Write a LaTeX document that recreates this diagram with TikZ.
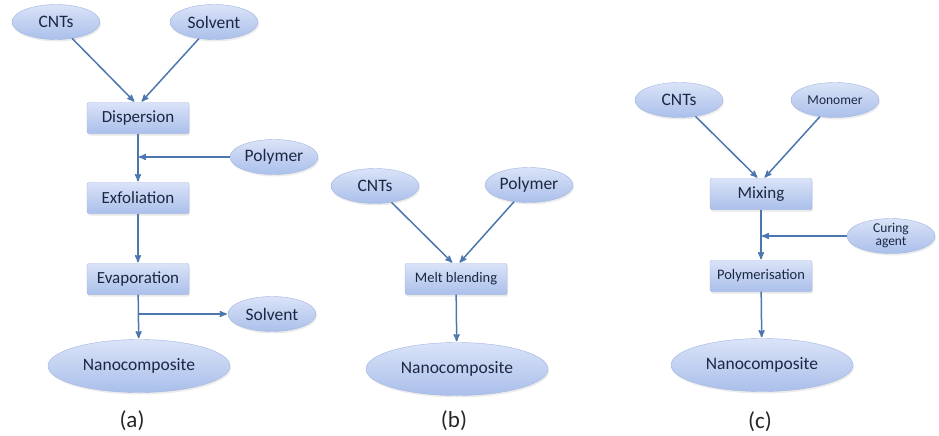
\documentclass[tikz,border=0pt]{standalone}
\usepackage{fontspec}
\setmainfont{Carlito}
\usepackage{tikz}
\usetikzlibrary{arrows,positioning,shapes.geometric,shadows}
\definecolor{boxtop}{HTML}{DAE3F8}
\definecolor{boxbot}{HTML}{AABFEA}
\definecolor{edgeblue}{HTML}{A0B4E0}
\definecolor{arrowblue}{HTML}{4C76AE}
\definecolor{inktext}{HTML}{1C2843}
\tikzset{
    %Define standard arrow tip
    >=stealth',
    %Define style for process boxes
    stagebox/.style={
           rectangle,
           rounded corners=2pt,
           draw=edgeblue, thin,
           top color=boxtop, bottom color=boxbot,
           minimum width=102pt,
           minimum height=31pt,
           font=\fontsize{17}{19}\selectfont,
           text=inktext,
           text centered,
           drop shadow={opacity=0.18,shadow xshift=1pt,shadow yshift=-2pt}
           },
    smallbox/.style={
           stagebox,
           font=\fontsize{14.5}{17}\selectfont
           },
    %Define style for inputs and products
    source/.style={
           ellipse,
           draw=edgeblue, thin,
           top color=boxtop, bottom color=boxbot,
           inner sep=0pt,
           minimum width=88pt,
           minimum height=35pt,
           font=\fontsize{17.5}{19}\selectfont,
           text=inktext,
           align=center,
           drop shadow={opacity=0.15,shadow xshift=1pt,shadow yshift=-2pt}
           },
    smallsource/.style={
           source,
           font=\fontsize{13.5}{16}\selectfont
           },
    product/.style={
           source,
           minimum width=182pt,
           minimum height=53pt
           },
    caption/.style={
           font=\fontsize{23}{25}\selectfont,
           text=black!85
           },
    % Define arrow style
    pil/.style={
           ->,
           color=arrowblue,
           line width=1.5pt,
           shorten >=1pt}
}
\begin{document}
\begin{tikzpicture}[x=1pt,y=-1pt]
\useasboundingbox (0,0) rectangle (939,436);
 %(a) solution processing
\node[source](cntA) at (56,22){CNTs};
\node[source](solvA) at (214,22){Solvent};
\node[stagebox](dispA) at (138,118){Dispersion};
\node[source](polyA) at (274,157){Polymer};
\node[stagebox](exfA) at (138,198){Exfoliation};
\node[stagebox](evapA) at (138,279){Evaporation};
\node[source](solvB) at (272,314){Solvent};
\node[product](nanoA) at (139,366){Nanocomposite};
\node[caption](capA) at (132,421){(a)};
\coordinate (jA1) at (dispA.south |- polyA.west);
\coordinate (jA2) at (evapA.south |- solvB.west);
 %(b) melt blending
\node[source](cntB) at (375,186){CNTs};
\node[source](polyB) at (529,185){Polymer};
\node[smallbox](meltB) at (456,279){Melt blending};
\node[product](nanoB) at (457,369){Nanocomposite};
\node[caption](capB) at (454,421){(b)};
 %(c) in situ polymerisation
\node[source](cntC) at (679,100){CNTs};
\node[smallsource](monoC) at (835,100){Monomer};
\node[stagebox](mixC) at (761,194){Mixing};
\node[smallsource](cureC) at (891,236){Curing\\[-3pt]agent};
\node[smallbox](polC) at (761,276){Polymerisation};
\node[product](nanoC) at (762,365){Nanocomposite};
\node[caption](capC) at (760,422){(c)};
\coordinate (jC1) at (mixC.south |- cureC.west);
 \path[pil]
    (cntA) edge ([xshift=-3pt]dispA.north)
    (solvA) edge ([xshift=3pt]dispA.north)
    (dispA) edge (exfA)
    (polyA) edge (jA1)
    (exfA) edge (evapA)
    (evapA) edge (nanoA)
    (jA2) edge (solvB)
    (cntB) edge ([xshift=-3pt]meltB.north)
    (polyB) edge ([xshift=3pt]meltB.north)
    (meltB) edge (nanoB)
    (cntC) edge ([xshift=-3pt]mixC.north)
    (monoC) edge ([xshift=3pt]mixC.north)
    (mixC) edge (polC)
    (cureC) edge (jC1)
    (polC) edge (nanoC);
\end{tikzpicture}
\end{document}
